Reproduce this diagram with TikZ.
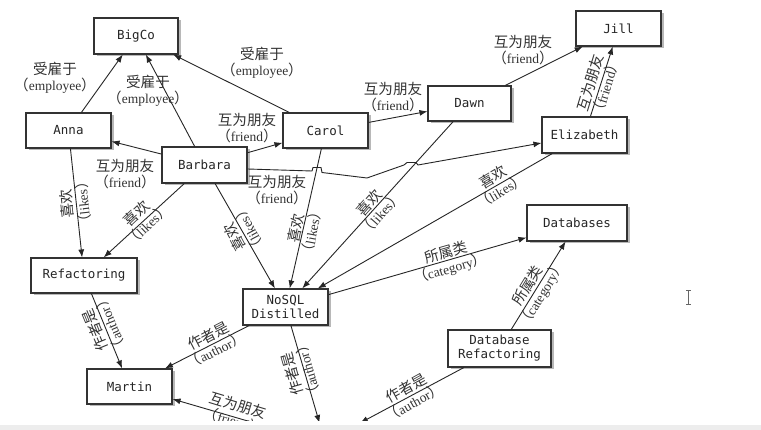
\documentclass[tikz,border=0pt]{standalone}
\usepackage{fontspec}
\setmainfont{Liberation Serif}
\newfontfamily\cjk[Scale=1.08]{Noto Sans CJK SC}
\newfontfamily\boxfont{DejaVu Sans Mono}
\usetikzlibrary{arrows.meta,shadows}
\newcommand\lbl[2]{{\cjk #1}\\{\cjk （}#2{\cjk ）}}
\tikzset{
  box/.style={draw=black!80, line width=1.1pt, fill=white,
    font=\boxfont\fontsize{12.5}{14}\selectfont, text=black!85, align=center,
    inner sep=2pt, drop shadow={shadow xshift=2.5pt, shadow yshift=-2.5pt, fill=black!55}},
  edge/.style={draw=black!85, line width=0.9pt, -{Latex[length=8pt,width=6pt]}},
  lab/.style={align=center, inner sep=0pt, text=black!80, font=\fontsize{13.5}{16}\selectfont},
}
\begin{document}
\begin{tikzpicture}[x=1pt,y=-1pt]
\useasboundingbox (0,0) rectangle (761,430);
\fill[white] (0,0) rectangle (761,430);
\begin{scope}
\clip (0,0) rectangle (761,421);
% nodes
\node[box, minimum width=84pt, minimum height=36pt] (bigco) at (136,36) {BigCo};
\node[box, minimum width=85pt, minimum height=35pt] (jill) at (618.5,28.5) {Jill};
\node[box, minimum width=85pt, minimum height=35pt] (anna) at (68.5,130.5) {Anna};
\node[box, minimum width=85pt, minimum height=35pt] (carol) at (325.5,130.5) {Carol};
\node[box, minimum width=85pt, minimum height=36pt] (barbara) at (204.5,165) {Barbara};
\node[box, minimum width=83pt, minimum height=35pt] (dawn) at (469.5,103.5) {Dawn};
\node[box, minimum width=85pt, minimum height=36pt] (eliz) at (584.5,135) {Elizabeth};
\node[box, minimum width=100pt, minimum height=36pt] (dbs) at (577,223) {Databases};
\node[box, minimum width=106pt, minimum height=35pt] (refac) at (84,275.5) {Refactoring};
\node[box, minimum width=85pt, minimum height=36pt] (nosql) at (285.5,307) {NoSQL\\Distilled};
\node[box, minimum width=103pt, minimum height=37pt] (dbr) at (499.5,348.5) {Database\\Refactoring};
\node[box, minimum width=85pt, minimum height=35pt] (martin) at (129.5,386.5) {Martin};
\coordinate (offA) at (319.5,423);
\coordinate (offB) at (360,423);
\coordinate (offC) at (258,424);
% edges
\draw[edge] (anna) -- (bigco);
\draw[edge] (barbara) -- (bigco);
\draw[edge] (carol) -- (bigco);
\draw[edge] (barbara) -- (anna);
\draw[edge] (barbara) -- (carol);
\draw[edge] (carol) -- (dawn);
\draw[edge] (dawn) -- (jill);
\draw[edge] (eliz) -- (jill);
\draw[edge] (anna) -- (refac);
\draw[edge] (barbara) -- (refac);
\draw[edge] (barbara) -- (nosql);
\draw[edge] (carol) -- (nosql);
\draw[edge] (dawn) -- (nosql);
\draw[edge] (eliz) -- (nosql);
\draw[edge] (nosql) -- (dbs);
\draw[edge] (dbr) -- (dbs);
\draw[edge] (refac) -- (martin);
\draw[edge] (nosql) -- (martin);
\draw[edge] (nosql) -- (offA);
\draw[edge] (dbr) -- (offB);
\draw[edge] (offC) -- (martin);
\draw[edge] ([yshift=-4pt]barbara.east) -- (312,171) -- (313,167.5) -- (321,167.5) -- (322,172.5)
  -- (367,178) -- (404,165) -- (407,162.5) -- (416,162.5) -- (418,165) -- ([yshift=-8pt]eliz.west);
% labels
\node[lab] (l1) at (55,78) {\lbl{受雇于}{employee}};
\node[lab] (l2) at (148,91) {\lbl{受雇于}{employee}};
\node[lab] (l3) at (262,63) {\lbl{受雇于}{employee}};
\node[lab] (l4) at (125,174) {\lbl{互为朋友}{friend}};
\node[lab] (l5) at (247,128) {\lbl{互为朋友}{friend}};
\node[lab] (l6) at (277,190) {\lbl{互为朋友}{friend}};
\node[lab] (l7) at (393,97) {\lbl{互为朋友}{friend}};
\node[lab] (l8) at (523,50) {\lbl{互为朋友}{friend}};
\node[lab, rotate=73] (l9) at (598,85) {\lbl{互为朋友}{friend}};
\node[lab, rotate=96] (l10) at (75,203) {\lbl{喜欢}{likes}};
\node[lab, rotate=43.5] (l11) at (142,219) {\lbl{喜欢}{likes}};
\node[lab, rotate=118] (l12) at (242,233) {\lbl{喜欢}{likes}};
\node[lab, rotate=79] (l13) at (304,230) {\lbl{喜欢}{likes}};
\node[lab, rotate=48.5] (l14) at (375,208) {\lbl{喜欢}{likes}};
\node[lab, rotate=30.5] (l15) at (497,184) {\lbl{喜欢}{likes}};
\node[lab, rotate=16] (l16) at (448,261) {\lbl{所属类}{category}};
\node[lab, rotate=58.5] (l17) at (535,290) {\lbl{所属类}{category}};
\node[lab, rotate=112.5] (l18) at (103,327) {\lbl{作者是}{author}};
\node[lab, rotate=27.5] (l19) at (212,343) {\lbl{作者是}{author}};
\node[lab, rotate=106] (l20) at (300,372) {\lbl{作者是}{author}};
\node[lab, rotate=29] (l21) at (410,395) {\lbl{作者是}{author}};
\node[lab, rotate=-17] (l22) at (236,413) {\lbl{互为朋友}{friend}};
\end{scope}
% cursor
\draw[line width=1pt, black!60] (688.5,291) -- (688.5,305)
  (686,291) -- (691,291) (686,305) -- (691,305);
% bottom band
\fill[black!7] (0,425) rectangle (761,430);
\end{tikzpicture}
\end{document}
